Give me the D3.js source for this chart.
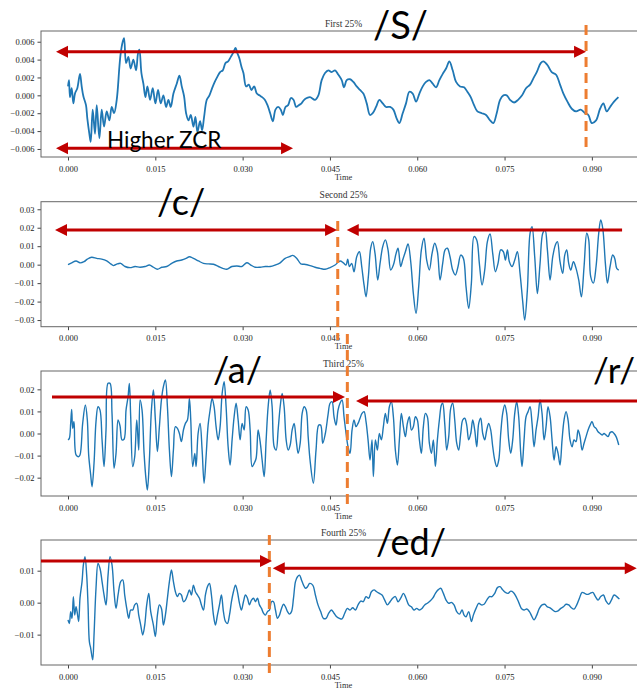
<!DOCTYPE html>
<html>
<head>
<meta charset="utf-8">
<script src="https://cdn.jsdelivr.net/npm/d3@7"></script>
<style>
body { margin: 0; background: #fff; }
</style>
</head>
<body>
<div id="chart"></div>
<script>
// ---- data (time in ms, amplitude) ----
var titles = ["First 25%", "Second 25%", "Third 25%", "Fourth 25%"];
var xTicks = [0, 0.015, 0.030, 0.045, 0.060, 0.075, 0.090];
var yTicks1 = [-0.006, -0.004, -0.002, 0, 0.002, 0.004, 0.006];
var yTicks2 = [-0.03, -0.02, -0.01, 0, 0.01, 0.02, 0.03];
var yTicks3 = [-0.02, -0.01, 0, 0.01, 0.02];
var yTicks4 = [-0.01, 0, 0.01];
var yLimits = [[-0.0069, 0.0072], [-0.0336, 0.0341], [-0.0283, 0.0283], [-0.0195, 0.0196]];

var time1 = [0.00,0.17,0.34,0.63,0.92,1.20,1.60,2.06,2.35,2.64,3.09,3.32,3.67,3.90,4.24,4.64,4.93,5.39,5.79,6.19,
  6.65,7.11,7.51,7.91,8.37,8.83,9.05,9.40,9.63,9.97,10.37,10.77,11.23,11.69,12.03,12.26,12.61,12.95,13.30,13.64,
  14.10,14.56,15.01,15.47,15.93,16.39,16.85,17.25,17.65,18.11,18.68,19.14,19.54,19.94,20.29,20.69,21.09,21.55,21.89,22.23,
  22.69,23.04,23.38,23.84,24.30,24.76,25.21,25.67,26.13,26.59,27.05,27.51,27.97,28.42,28.77,29.11,29.46,29.80,30.14,30.60,
  31.06,31.52,31.98,32.44,32.89,33.35,33.81,34.27,34.73,35.19,35.64,36.10,36.56,36.91,37.36,37.82,38.28,38.74,39.20,39.66,
  40.11,40.57,41.03,
  41.58,42.44,43.01,43.58,44.16,44.73,45.30,45.88,46.45,47.02,47.42,47.88,48.45,49.03,49.60,50.17,50.74,51.32,51.89,52.35,
  52.92,53.49,54.07,54.64,55.33,55.90,56.47,56.93,57.50,58.07,58.65,59.22,59.79,60.37,60.94,61.51,62.08,62.66,63.23,63.80,
  64.38,64.95,65.52,66.09,66.67,67.35,68.04,68.61,69.19,69.76,70.33,71.08,71.82,72.51,73.08,73.65,74.23,74.80,75.37,75.94,
  76.63,77.32,78.01,78.69,79.38,79.95,80.53,81.21,81.67,82.36,83.10,83.85,84.53,85.11,85.80,86.54,87.28,88.09,88.83,89.40,
  89.98,90.72,91.41,91.98,92.55,93.13,93.81,94.56];
var amp1 = [0.0010,0.0017,-0.0002,0.0008,-0.0009,0.0002,0.0008,0.0024,0.0010,-0.0001,
  -0.0011,-0.0026,-0.0043,-0.0052,-0.0016,-0.0043,-0.0011,-0.0048,-0.0016,-0.0035,
  -0.0018,-0.0028,-0.0013,-0.0020,-0.0005,0.0032,0.0047,0.0060,0.0064,0.0036,
  0.0043,0.0030,0.0040,0.0028,0.0047,0.0051,0.0025,0.0013,-0.0002,0.0010,
  -0.0005,0.0008,-0.0009,0.0006,-0.0009,0.0000,-0.0013,-0.0005,-0.0013,0.0002,
  0.0013,0.0022,0.0010,-0.0001,-0.0020,-0.0028,-0.0022,-0.0035,-0.0024,-0.0041,
  -0.0029,-0.0039,-0.0024,-0.0005,0.0000,0.0008,0.0015,0.0021,0.0026,0.0028,
  0.0036,0.0038,0.0043,0.0048,0.0053,0.0047,0.0041,0.0032,0.0025,0.0010,
  0.0012,0.0006,0.0010,0.0002,0.0000,-0.0002,-0.0005,-0.0011,-0.0020,-0.0029,
  -0.0016,-0.0013,-0.0016,-0.0022,-0.0013,-0.0011,-0.0003,-0.0005,-0.0013,-0.0011,
  -0.0009,-0.0005,-0.0003,
  -0.0002,-0.0005,0.0000,0.0017,0.0025,0.0028,0.0026,0.0028,0.0023,0.0017,
  0.0009,0.0017,0.0018,0.0015,0.0010,0.0006,0.0002,-0.0009,-0.0022,-0.0020,
  -0.0013,-0.0005,-0.0009,-0.0013,-0.0013,-0.0016,-0.0026,-0.0031,-0.0020,-0.0009,
  0.0004,0.0002,-0.0007,0.0002,0.0010,0.0015,0.0017,0.0013,0.0009,0.0017,
  0.0024,0.0030,0.0038,0.0028,0.0015,0.0010,0.0009,0.0004,-0.0002,-0.0011,
  -0.0018,-0.0020,-0.0022,-0.0028,-0.0031,-0.0020,-0.0005,0.0000,0.0000,-0.0005,
  -0.0008,-0.0005,0.0000,0.0008,0.0012,0.0019,0.0026,0.0036,0.0038,0.0034,
  0.0026,0.0023,0.0012,0.0002,-0.0007,-0.0015,-0.0018,-0.0016,-0.0020,-0.0022,
  -0.0031,-0.0028,-0.0015,-0.0009,-0.0018,-0.0013,-0.0007,-0.0002];

var time2 = [0.00,0.63,1.38,2.06,2.75,3.32,4.07,4.93,5.79,6.65,7.34,7.79,8.48,9.05,9.80,10.66,11.52,12.38,13.24,13.98,
  14.67,15.36,16.10,16.96,17.82,18.68,19.54,20.29,20.86,21.55,22.41,23.27,24.13,24.99,25.85,26.59,27.28,28.14,29.00,29.86,
  30.72,31.40,32.15,33.01,33.87,34.73,35.59,36.45,37.31,38.05,38.62,39.31,40.00,40.57,
  41.58,42.44,43.30,44.16,45.02,45.88,46.73,47.31,47.77,48.05,48.34,48.74,49.14,49.60,50.06,50.46,50.86,51.20,51.60,52.00,
  52.35,52.75,53.21,53.61,54.07,54.52,54.98,55.44,55.90,56.36,56.70,57.16,57.50,57.96,58.42,58.88,59.33,59.79,60.25,60.71,
  61.17,61.62,62.08,62.54,63.00,63.46,63.92,64.37,64.78,65.18,65.63,66.09,66.55,67.01,67.47,67.93,68.38,68.84,69.30,69.76,
  70.22,70.67,71.13,71.59,72.05,72.51,72.97,73.42,73.88,74.34,74.80,75.14,75.49,75.83,76.29,76.75,77.20,77.66,78.12,78.46,
  78.92,79.38,79.72,80.18,80.64,81.10,81.56,81.96,82.36,82.82,83.28,83.73,84.08,84.53,84.99,85.34,85.68,86.02,86.37,86.83,
  87.28,87.74,88.20,88.66,89.12,89.46,89.80,90.26,90.72,91.18,91.52,91.87,92.32,92.67,93.13,93.58,93.93,94.27,94.62];
var amp2 = [0.0000,0.0010,0.0020,0.0010,0.0016,0.0030,0.0040,0.0034,0.0030,0.0020,
  0.0004,-0.0005,0.0004,0.0007,-0.0010,-0.0016,-0.0010,-0.0014,-0.0010,-0.0002,
  -0.0014,-0.0025,-0.0014,-0.0010,0.0007,0.0020,0.0025,0.0034,0.0043,0.0034,
  0.0020,0.0007,0.0004,0.0002,-0.0010,-0.0020,-0.0025,-0.0010,-0.0007,-0.0010,
  0.0010,-0.0002,-0.0014,-0.0014,-0.0010,-0.0010,-0.0002,0.0010,0.0034,0.0043,
  0.0050,0.0034,0.0004,0.0002,
  -0.0005,-0.0014,-0.0020,-0.0025,-0.0016,-0.0002,0.0020,0.0010,-0.0002,0.0030,
  -0.0010,0.0007,-0.0038,0.0043,0.0070,-0.0010,-0.0110,-0.0174,-0.0065,0.0089,
  0.0125,0.0060,-0.0083,0.0007,0.0098,0.0134,0.0080,-0.0029,-0.0002,0.0060,
  0.0089,-0.0010,0.0025,0.0070,0.0112,0.0016,-0.0156,-0.0264,-0.0119,0.0080,
  0.0143,0.0025,-0.0029,0.0060,0.0116,0.0070,-0.0083,0.0007,0.0080,0.0089,
  0.0043,-0.0029,-0.0056,-0.0010,0.0052,0.0034,-0.0119,-0.0237,-0.0100,0.0152,
  0.0134,0.0007,-0.0110,-0.0029,0.0125,0.0166,0.0060,-0.0038,0.0007,0.0080,
  0.0070,0.0025,0.0080,0.0016,-0.0010,0.0025,0.0070,-0.0047,-0.0200,-0.0300,
  -0.0137,0.0170,0.0206,0.0043,-0.0156,0.0007,0.0170,0.0188,0.0080,-0.0083,
  0.0043,0.0107,0.0125,0.0016,-0.0047,0.0052,0.0080,0.0007,-0.0029,0.0016,
  -0.0020,-0.0083,-0.0174,-0.0010,0.0170,0.0134,-0.0065,-0.0100,-0.0010,0.0170,
  0.0242,0.0197,0.0007,-0.0100,-0.0010,0.0052,0.0034,-0.0020,-0.0029];

var time3 = [0.00,0.23,0.46,0.63,0.80,1.03,1.38,1.78,2.06,2.52,2.98,3.32,3.55,3.90,4.13,4.47,4.81,5.16,5.50,5.85,
  6.19,6.53,6.88,7.22,7.56,7.91,8.25,8.60,8.94,9.28,9.63,9.97,10.32,10.54,10.77,11.12,11.46,11.81,12.15,12.38,
  12.72,13.07,13.41,13.64,13.98,14.33,14.67,15.01,15.36,15.70,16.05,16.39,16.73,17.08,17.42,17.77,18.11,18.45,18.80,19.14,
  19.48,19.83,20.17,20.52,20.86,21.09,21.43,21.78,22.01,22.35,22.69,23.04,23.38,23.72,24.07,24.41,24.76,25.10,25.44,25.79,
  26.13,26.48,26.82,27.16,27.51,27.85,28.19,28.54,28.88,29.23,29.57,29.91,30.26,30.60,30.95,31.29,31.63,31.98,32.32,32.66,
  33.01,33.35,33.70,34.04,34.38,34.73,35.07,35.42,35.76,36.10,36.45,36.79,37.13,37.48,37.82,38.17,38.51,38.85,39.20,39.54,
  39.89,40.23,40.57,40.92,41.26,
  41.58,42.15,42.61,43.07,43.41,43.76,44.21,44.67,45.02,45.36,45.70,46.05,46.39,46.73,47.08,47.42,47.77,48.11,48.45,48.80,
  49.14,49.48,49.83,50.17,50.51,50.86,51.20,51.55,51.89,52.23,52.46,52.81,53.15,53.49,53.84,54.18,54.52,54.87,55.21,55.55,
  55.90,56.24,56.59,56.93,57.27,57.62,57.96,58.30,58.65,58.99,59.33,59.68,60.02,60.37,60.71,61.05,61.40,61.74,62.08,62.43,
  62.77,63.11,63.46,63.80,64.15,64.37,64.72,65.06,65.41,65.75,66.09,66.44,66.78,67.12,67.47,67.81,68.16,68.50,68.84,69.19,
  69.53,69.87,70.22,70.56,70.90,71.25,71.59,71.94,72.28,72.62,72.97,73.31,73.65,74.00,74.34,74.68,75.03,75.37,75.71,76.06,
  76.40,76.75,77.09,77.43,77.78,78.01,78.35,78.69,79.04,79.38,79.72,80.07,80.41,80.76,81.10,81.44,81.79,82.13,82.47,82.82,
  83.16,83.50,83.85,84.19,84.53,84.88,85.22,85.57,85.91,86.25,86.60,86.94,87.28,87.63,87.97,88.32,88.66,89.00,89.35,89.69,
  90.03,90.38,90.72,91.06,91.41,91.75,92.09,92.44,92.78,93.13,93.47,93.81,94.16,94.62];
var amp3 = [-0.0029,-0.0022,0.0046,0.0109,0.0023,0.0054,-0.0097,-0.0105,-0.0097,0.0046,
  0.0129,0.0061,-0.0097,-0.0188,-0.0241,-0.0135,0.0054,0.0121,0.0106,-0.0029,
  -0.0150,0.0016,0.0227,0.0227,0.0091,-0.0158,-0.0090,0.0061,0.0034,-0.0029,
  -0.0026,0.0106,0.0167,0.0227,0.0076,-0.0150,-0.0105,0.0061,-0.0075,0.0152,
  0.0106,-0.0090,-0.0210,-0.0256,-0.0120,0.0106,0.0197,0.0061,-0.0082,0.0031,
  0.0152,0.0212,0.0242,0.0121,-0.0075,-0.0195,-0.0075,0.0031,0.0023,0.0000,
  -0.0037,0.0016,0.0046,0.0061,0.0159,0.0061,-0.0150,-0.0090,-0.0150,0.0000,
  0.0046,-0.0075,-0.0225,-0.0105,0.0038,0.0106,0.0159,0.0121,0.0031,-0.0029,
  0.0031,0.0181,0.0235,0.0121,-0.0060,-0.0143,-0.0029,0.0076,0.0137,0.0061,
  -0.0029,0.0046,0.0016,0.0121,0.0106,0.0016,-0.0150,-0.0135,-0.0112,0.0016,
  -0.0037,-0.0120,-0.0195,-0.0029,0.0121,0.0197,0.0121,-0.0060,-0.0075,0.0016,
  0.0121,0.0181,0.0121,-0.0029,-0.0075,-0.0052,0.0016,0.0046,-0.0029,-0.0090,
  -0.0044,0.0091,0.0121,0.0106,-0.0014,
  -0.0120,-0.0225,-0.0075,0.0038,0.0038,-0.0044,0.0000,0.0084,0.0137,0.0144,
  0.0076,0.0038,0.0106,0.0137,0.0152,0.0076,0.0000,-0.0060,-0.0090,0.0016,
  0.0061,0.0031,0.0046,0.0069,0.0091,0.0099,0.0054,-0.0029,-0.0120,-0.0029,
  -0.0195,-0.0029,-0.0075,0.0000,-0.0029,0.0031,0.0091,0.0046,0.0121,0.0144,
  0.0076,-0.0075,-0.0143,-0.0029,0.0091,0.0031,-0.0014,0.0046,0.0076,0.0016,
  0.0031,0.0076,0.0061,-0.0029,-0.0090,0.0031,0.0091,0.0076,-0.0044,-0.0090,
  -0.0029,-0.0150,-0.0029,0.0061,0.0129,0.0137,0.0046,-0.0075,-0.0014,0.0114,
  0.0137,0.0061,-0.0044,-0.0075,0.0000,0.0061,0.0069,0.0038,-0.0029,0.0000,
  0.0061,0.0016,-0.0060,0.0046,0.0069,0.0000,-0.0029,0.0016,0.0046,0.0016,
  -0.0060,-0.0120,-0.0150,-0.0120,0.0000,0.0091,0.0129,0.0091,-0.0029,-0.0090,
  -0.0029,0.0091,0.0144,0.0076,-0.0090,-0.0150,-0.0029,0.0076,0.0099,0.0121,
  0.0046,-0.0060,0.0016,0.0076,0.0152,0.0091,-0.0029,0.0031,0.0121,0.0076,
  -0.0029,-0.0120,-0.0060,-0.0090,-0.0143,-0.0029,0.0061,0.0099,0.0061,-0.0029,
  -0.0060,-0.0029,-0.0037,0.0016,-0.0014,-0.0075,-0.0044,-0.0014,0.0016,0.0038,
  0.0054,0.0031,0.0023,0.0008,0.0000,-0.0007,0.0000,-0.0007,-0.0014,0.0004,
  0.0008,0.0000,-0.0014,-0.0052];

var time4 = [0.00,0.23,0.46,0.69,0.92,1.15,1.38,1.60,1.83,2.06,2.41,2.64,2.92,3.21,3.44,3.67,3.90,4.24,4.47,4.81,
  5.16,5.50,5.85,6.19,6.53,6.88,7.22,7.56,7.91,8.25,8.60,9.05,9.40,9.74,10.09,10.43,10.77,11.12,11.46,11.81,
  12.15,12.49,12.84,13.18,13.52,13.87,14.21,14.67,15.01,15.36,15.70,16.05,16.39,16.73,17.08,17.42,17.77,18.11,18.45,18.80,
  19.14,19.48,19.83,20.17,20.52,20.86,21.20,21.55,21.89,22.23,22.58,22.92,23.27,23.61,23.95,24.30,24.64,24.99,25.33,25.67,
  26.02,26.36,26.70,27.05,27.39,27.74,28.08,28.42,28.77,29.11,29.46,29.80,30.14,30.49,30.83,31.17,31.52,31.86,32.21,32.55,
  32.89,33.24,33.58,33.92,34.27,34.61,34.96,35.30,35.64,35.99,36.33,36.68,37.02,37.36,37.71,38.05,38.40,38.74,39.08,39.43,
  39.77,40.11,40.46,40.80,41.15,41.49,
  42.04,42.50,42.95,43.41,43.87,44.33,44.79,45.24,45.70,46.16,46.62,47.08,47.54,47.99,48.45,48.91,49.37,49.83,50.29,50.74,
  51.20,51.66,52.12,52.58,53.03,53.49,53.95,54.41,54.87,55.33,55.78,56.24,56.70,57.16,57.62,58.07,58.53,58.99,59.45,59.91,
  60.37,60.82,61.28,61.74,62.20,62.66,63.12,63.57,64.03,64.49,64.95,65.41,65.86,66.32,66.78,67.24,67.70,68.04,68.38,68.84,
  69.30,69.64,70.10,70.56,71.02,71.48,71.94,72.39,72.85,73.31,73.77,74.23,74.69,75.14,75.60,76.06,76.52,76.98,77.43,77.89,
  78.35,78.81,79.27,79.72,80.07,80.53,80.98,81.44,81.90,82.36,82.82,83.28,83.73,84.19,84.65,85.11,85.57,86.02,86.48,86.94,
  87.40,87.86,88.32,88.77,89.23,89.69,90.15,90.61,91.06,91.52,91.98,92.44,92.90,93.35,93.81,94.27,94.73];
var amp4 = [-0.0054,-0.0065,-0.0028,-0.0049,0.0019,-0.0039,-0.0013,-0.0033,-0.0059,0.0014,
  0.0066,0.0118,0.0144,0.0086,-0.0007,-0.0122,-0.0143,-0.0179,-0.0101,0.0045,
  0.0123,0.0107,0.0066,0.0024,-0.0007,0.0086,0.0144,0.0118,0.0034,-0.0018,
  0.0024,0.0066,0.0071,0.0024,-0.0018,-0.0049,-0.0023,-0.0023,-0.0007,-0.0002,
  -0.0039,-0.0070,-0.0101,-0.0070,-0.0007,0.0029,-0.0028,-0.0070,-0.0106,-0.0039,
  -0.0007,-0.0018,-0.0070,-0.0039,0.0014,0.0066,0.0102,0.0066,0.0034,0.0019,
  0.0029,0.0024,0.0003,0.0008,0.0024,0.0040,0.0024,0.0055,0.0034,0.0024,
  0.0014,-0.0007,-0.0023,0.0024,0.0050,0.0060,0.0024,-0.0039,-0.0070,-0.0039,
  -0.0007,0.0024,-0.0028,-0.0059,-0.0065,-0.0039,0.0003,0.0034,0.0055,0.0034,
  -0.0002,-0.0023,0.0003,0.0024,0.0014,-0.0007,0.0008,0.0014,0.0003,0.0014,
  -0.0007,-0.0018,-0.0033,-0.0039,-0.0028,-0.0023,0.0003,0.0003,-0.0023,-0.0049,
  -0.0039,-0.0018,-0.0005,-0.0013,-0.0028,-0.0036,-0.0028,0.0014,0.0066,0.0081,
  0.0086,0.0071,0.0055,0.0045,0.0050,0.0060,
  0.0055,0.0024,-0.0007,-0.0028,-0.0049,-0.0049,-0.0033,-0.0023,-0.0033,-0.0044,
  -0.0049,-0.0051,-0.0033,-0.0018,-0.0023,-0.0016,-0.0023,-0.0007,0.0005,0.0003,
  0.0019,0.0014,0.0034,0.0040,0.0034,0.0029,0.0024,0.0008,-0.0007,0.0003,
  0.0014,0.0019,0.0003,0.0014,0.0029,0.0014,-0.0007,-0.0013,-0.0023,-0.0018,
  -0.0023,-0.0018,-0.0007,-0.0002,0.0005,0.0014,0.0029,0.0040,0.0045,0.0029,
  0.0008,-0.0002,0.0001,-0.0007,-0.0028,-0.0036,-0.0023,-0.0039,-0.0044,-0.0028,
  -0.0059,-0.0039,-0.0018,-0.0002,-0.0007,-0.0005,0.0008,0.0019,0.0019,0.0029,
  0.0047,0.0050,0.0040,0.0032,0.0029,0.0036,0.0032,0.0019,0.0001,-0.0018,
  -0.0023,-0.0020,-0.0028,-0.0044,-0.0054,-0.0039,-0.0018,-0.0007,-0.0005,-0.0013,
  -0.0016,-0.0023,-0.0028,-0.0026,-0.0018,-0.0013,-0.0005,-0.0007,-0.0016,-0.0020,
  -0.0007,0.0014,0.0032,0.0029,0.0026,0.0029,0.0032,0.0019,0.0008,0.0019,
  0.0024,0.0005,-0.0005,0.0008,0.0024,0.0019,0.0011];

// annotation overlay, in data units (time s, amplitude)
var boundaries = [0.0890, 0.04634, 0.04799, 0.03459];       // orange dashed split
var boundarySpan = [[0.00786, -0.00578], [0.0237, -0.0408], [0.0450, -0.0337], [0.0212, -0.0220]];
// [panel, amplitude, t start, t end, head at start, head at end]
var arrows = [
  [0, 0.00488, -0.00206, 0.0890, true, true],
  [0, -0.00593, -0.00206, 0.03866, true, true],
  [1, 0.0188, -0.00223, 0.04622, true, true],
  [1, 0.0188, 0.04789, 0.09519, true, false],
  [2, 0.0165, -0.00275, 0.04759, false, true],
  [2, 0.0147, 0.04948, 0.1000, true, false],
  [3, 0.0130, -0.00464, 0.03505, false, true],
  [3, 0.0108, 0.03517, 0.09771, true, true]
];
// [panel, text, t, amplitude, size]
var labels = [
  [0, "/S/", 0.0524, 0.0063, 38],
  [0, "Higher ZCR", 0.0067, -0.0059, 22.5],
  [1, "/c/", 0.0153, 0.0269, 36],
  [2, "/a/", 0.0249, 0.0229, 36],
  [2, "/r/", 0.0902, 0.0229, 35],
  [3, "/ed/", 0.0529, 0.0149, 36]
];

// ------------------------
var width = 637,
  height = 688;

var times = [time1, time2, time3, time4];
var amps = [amp1, amp2, amp3, amp4];
var yTicks = [yTicks1, yTicks2, yTicks3, yTicks4];
var yFormats = [d3.format(".3f"), d3.format(".2f"), d3.format(".2f"), d3.format(".2f")];
var frames = [[31, 157], [201.7, 326.7], [371, 496], [540, 665]];

var svg = d3.select("#chart").append("svg")
  .attr("width", width)
  .attr("height", height)
  .style("font-family", "'Liberation Serif', 'DejaVu Serif', serif");

var x = d3.scaleLinear()
  .domain([-0.00464, 0.0993])
  .range([41, 646]);

var ys = [];

frames.forEach(function(f, i) {
  var y = d3.scaleLinear()
    .domain(yLimits[i])
    .range([f[1], f[0]]);
  ys.push(y);

  var g = svg.append("g").attr("class", "panel");

  var pts = times[i].map(function(t, k) { return [t / 1000, amps[i][k]]; });

  var line = d3.line()
    .x(function(d) { return x(d[0]); })
    .y(function(d) { return y(d[1]); })
    .curve(d3.curveCatmullRom);

  g.append("path")
    .datum(pts)
    .attr("d", line)
    .attr("fill", "none")
    .attr("stroke", "#1f77b4")
    .attr("stroke-width", i == 0 ? 1.8 : 1.4)
    .attr("stroke-linejoin", "round");

  var xa = g.append("g")
    .attr("transform", "translate(0," + f[1] + ")")
    .call(d3.axisBottom(x).tickValues(xTicks).tickFormat(d3.format(".3f")).tickSize(3.5).tickSizeOuter(0));

  var ya = g.append("g")
    .attr("transform", "translate(41,0)")
    .call(d3.axisLeft(y).tickValues(yTicks[i]).tickFormat(yFormats[i]).tickSize(3.5).tickSizeOuter(0));

  [xa, ya].forEach(function(a) {
    a.select(".domain").remove();
    a.selectAll("line").attr("stroke", "#444");
    a.selectAll("text")
      .style("font-family", "'Liberation Serif', serif")
      .style("font-size", "8.5px")
      .attr("fill", "#222");
  });
  xa.selectAll("text").attr("dy", "0.95em");

  // frame
  g.append("rect")
    .attr("x", 41)
    .attr("y", f[0])
    .attr("width", 646 - 41)
    .attr("height", f[1] - f[0])
    .attr("fill", "none")
    .attr("stroke", "#666")
    .attr("stroke-width", 1);

  g.append("text")
    .attr("x", 343.5)
    .attr("y", f[0] - 4)
    .attr("text-anchor", "middle")
    .style("font-size", "9.5px")
    .attr("fill", "#333")
    .text(titles[i]);

  g.append("text")
    .attr("x", 343.5)
    .attr("y", f[1] + 22.5)
    .attr("text-anchor", "middle")
    .style("font-size", "8.5px")
    .attr("fill", "#333")
    .text("Time");
});

// overlay: phoneme boundaries, arrows and labels
var over = svg.append("g").attr("class", "overlay");
var red = "#c00000";

boundaries.forEach(function(b, i) {
  over.append("line")
    .attr("x1", x(b)).attr("x2", x(b))
    .attr("y1", ys[i](boundarySpan[i][0]))
    .attr("y2", ys[i](boundarySpan[i][1]))
    .attr("stroke", "#ed7d31")
    .attr("stroke-width", 3)
    .attr("stroke-dasharray", "10,6");
});

arrows.forEach(function(a) {
  var y0 = ys[a[0]](a[1]);
  var x1 = x(a[2]), x2 = x(a[3]);
  var hl = 12, hw = 6;
  over.append("line")
    .attr("x1", a[4] ? x1 + hl - 1 : x1)
    .attr("x2", a[5] ? x2 - hl + 1 : x2)
    .attr("y1", y0).attr("y2", y0)
    .attr("stroke", red)
    .attr("stroke-width", 3);
  if (a[4]) {
    over.append("path")
      .attr("d", "M" + x1 + "," + y0 + "L" + (x1 + hl) + "," + (y0 - hw) + "L" + (x1 + hl) + "," + (y0 + hw) + "Z")
      .attr("fill", red);
  }
  if (a[5]) {
    over.append("path")
      .attr("d", "M" + x2 + "," + y0 + "L" + (x2 - hl) + "," + (y0 - hw) + "L" + (x2 - hl) + "," + (y0 + hw) + "Z")
      .attr("fill", red);
  }
});

labels.forEach(function(l) {
  over.append("text")
    .attr("x", x(l[2]))
    .attr("y", ys[l[0]](l[3]))
    .style("font-family", "Lato, 'Open Sans', sans-serif")
    .style("font-size", l[4] + "px")
    .attr("fill", "#000")
    .text(l[1]);
});
</script>
</body>
</html>
